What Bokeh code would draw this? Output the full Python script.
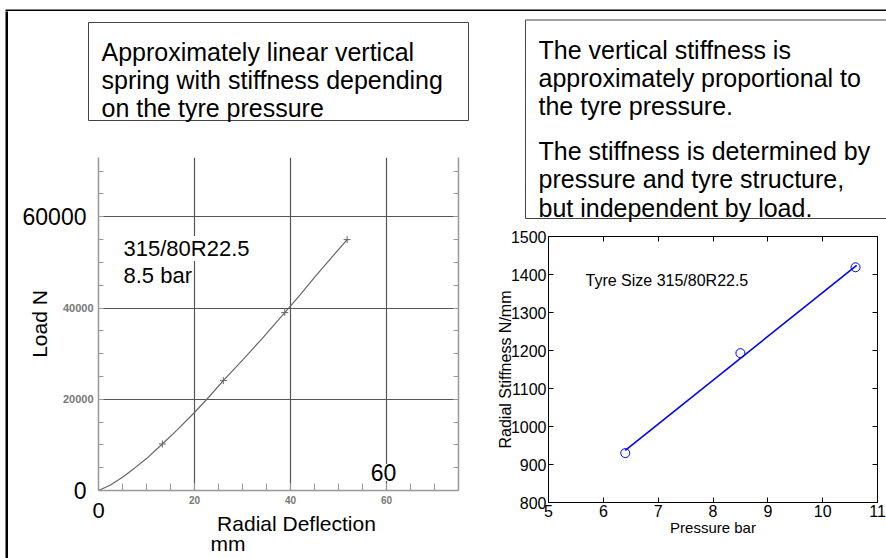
from bokeh.plotting import figure
from bokeh.models import Range1d, FixedTicker, LinearAxis, Label
from bokeh.layouts import row, column
from bokeh.core.properties import value
from bokeh.embed import file_html
from bokeh.resources import INLINE

# ---------------- data ----------------
# Left chart: load vs radial deflection (315/80R22.5, 8.5 bar)
defl_mm = [0, 2.5, 5, 7.5, 10, 13.3, 16.5, 20, 23, 26.0, 30, 34, 38.8, 42, 45, 48.5, 51.8]
load_N = [0, 1200, 2900, 4900, 7000, 10200, 13400, 17100, 20500, 24100, 28600,
          33200, 39000, 42900, 46700, 51000, 55000]
meas_defl = [13.3, 26.0, 38.8, 51.8]
meas_load = [10200, 24100, 39000, 55000]
left_xticks = [0, 20, 40, 60]
left_yticks = [0, 20000, 40000, 60000]
big_yticks = [0, 60000]
big_xticks = [0]

# Right chart: radial stiffness vs pressure
pressure_bar = [6.4, 8.5, 10.6]
stiffness_Nmm = [930, 1193, 1419]
fit_pressure = [6.4, 10.62]
fit_stiffness = [937, 1424]
right_xticks = [5, 6, 7, 8, 9, 10, 11]
right_yticks = [800, 900, 1000, 1100, 1200, 1300, 1400, 1500]

left_box_lines = ["Approximately linear vertical",
                  "spring with stiffness depending",
                  "on the tyre pressure"]
right_box_lines = ["The vertical stiffness is",
                   "approximately proportional to",
                   "the tyre pressure.",
                   "The stiffness is determined by",
                   "pressure and tyre structure,",
                   "but independent by load."]

FONT = "Liberation Sans"


def panel(x0, x1, y0, y1):
    p = figure(width=x1 - x0, height=y1 - y0, x_range=Range1d(x0, x1),
               y_range=Range1d(y1, y0), output_backend="svg",
               toolbar_location=None, min_border=0, x_axis_type=None,
               y_axis_type=None, outline_line_color=None)
    p.frame_align = False
    return p


# ---------------- slide frame: top rule and left rule ----------------
top = panel(0, 886, 0, 11)
top.quad(left=[5], right=[900], top=[8], bottom=[10.6], fill_color="black", line_color=None)

strip = panel(0, 8, 11, 558)
strip.quad(left=[5], right=[8], top=[0], bottom=[558], fill_color="black", line_color=None)

# ---------------- left top panel (page px coords) ----------------
lt = panel(8, 490, 11, 140)
lt.quad(left=[88], right=[468], top=[22], bottom=[120], fill_color="white",
        line_color="#444444", line_width=1)
lt.text(x=[101] * 3, y=[51.7, 79.5, 107.3], text=left_box_lines,
        text_font=value(FONT), text_font_size="25px", text_baseline="alphabetic",
        text_color="black")

# ---------------- right top panel ----------------
rt = panel(490, 886, 11, 222)
rt.quad(left=[525], right=[900], top=[19.5], bottom=[218], fill_color="white",
        line_color="#444444", line_width=1)
rt.text(x=[538] * 6, y=[49.5, 77, 105, 150, 178.5, 207], text=right_box_lines,
        text_font=value(FONT), text_font_size="25px", text_baseline="alphabetic",
        text_color="black")

# ---------------- left chart ----------------
LX0, LX1, LY0, LY1 = 98, 458, 157, 490  # frame in page px


def lx(px):
    return (px - LX0) / (LX1 - LX0) * 75


def ly(py):
    return (LY1 - py) / (LY1 - LY0) * 73000


lc = figure(width=482, height=418, x_range=Range1d(0, 75), y_range=Range1d(0, 73000),
            min_border_left=90, min_border_right=32, min_border_top=17,
            min_border_bottom=68, output_backend="svg", toolbar_location=None,
            outline_line_color=None)
lc.frame_align = False
lc.xgrid.ticker = FixedTicker(ticks=[t for t in left_xticks if t > 0])
lc.ygrid.ticker = FixedTicker(ticks=[t for t in left_yticks if t > 0])
lc.grid.grid_line_color = "#555555"
lc.grid.grid_line_width = 1.2

ax = lc.xaxis[0]
ax.ticker = FixedTicker(ticks=left_xticks, minor_ticks=list(range(0, 80, 5)))
ax.major_label_overrides = {0: ""}
ay = lc.yaxis[0]
ay.ticker = FixedTicker(ticks=left_yticks, minor_ticks=list(range(0, 75000, 5000)))
ay.major_label_overrides = {0: "", 60000: ""}
for a in (ax, ay):
    a.axis_line_color = "#999999"
    a.axis_line_width = 1.5
    a.major_tick_out = 0
    a.minor_tick_out = 0
    a.major_tick_line_color = "#999999"
    a.minor_tick_line_color = "#999999"
    a.major_label_text_font = FONT
    a.major_label_text_font_size = "11px"
    a.major_label_text_font_style = "bold"
    a.major_label_text_color = "#777777"
    a.major_label_standoff = 5
ax.major_label_text_font_size = "10px"
ax.major_tick_in = 7
ax.minor_tick_in = 7
ay.major_tick_in = 5
ay.minor_tick_in = 5

ry_axis = LinearAxis(ticker=FixedTicker(ticks=left_yticks, minor_ticks=list(range(0, 75000, 5000))),
                     major_label_text_font_size="0px", major_label_standoff=0,
                     major_tick_in=5, major_tick_out=0, minor_tick_in=5, minor_tick_out=0,
                     axis_line_color="#999999", axis_line_width=1.5,
                     major_tick_line_color="#999999", minor_tick_line_color="#999999",
                     major_label_overrides={t: "" for t in left_yticks})
lc.add_layout(ry_axis, "right")


def text_axis(ticks, labels, size, standoff, **kw):
    return LinearAxis(ticker=FixedTicker(ticks=ticks), axis_line_color=None,
                      major_tick_line_color=None, minor_tick_line_color=None,
                      major_tick_in=0, major_tick_out=0, minor_tick_in=0, minor_tick_out=0,
                      major_label_text_font=FONT, major_label_text_font_size=size,
                      major_label_text_color="black", major_label_standoff=standoff,
                      major_label_overrides=dict(zip(ticks, labels)), **kw)


# outer axes carrying the large overlaid labels and axis titles
big_left = text_axis(big_yticks, ["0", "60000"], "23px", -27,
                     axis_label="Load N", axis_label_text_font=FONT,
                     axis_label_text_font_style="normal", axis_label_text_font_size="21px",
                     axis_label_text_color="black", axis_label_standoff=-31)
lc.add_layout(big_left, "left")

XLAB_POS = 41.25   # centre of "Radial Deflection" in data units
MM_POS = 27.0      # centre of "mm"
lc.add_layout(text_axis(big_xticks, ["0"], "22px", -4), "below")
lc.add_layout(text_axis([XLAB_POS], ["Radial Deflection"], "21px", -9), "below")
lc.add_layout(text_axis([MM_POS], ["mm"], "21px", -6), "below")

lc.line(defl_mm, load_N, line_color="#666666", line_width=1.2)
lc.scatter(meas_defl, meas_load, marker="cross", size=7, line_color="#666666")

lc.add_layout(Label(x=lx(383), y=ly(472), text="60", text_align="center",
                    text_baseline="middle", text_font_size="23px", text_font=FONT,
                    text_color="black", background_fill_color="white"))
lc.add_layout(Label(x=lx(123), y=ly(248), text="315/80R22.5", text_align="left",
                    text_baseline="alphabetic", text_font_size="22px", text_font=FONT,
                    text_color="black", background_fill_color="white"))
lc.add_layout(Label(x=lx(123), y=ly(275), text="8.5 bar", text_align="left",
                    text_baseline="alphabetic", text_font_size="22px", text_font=FONT,
                    text_color="black", background_fill_color="white"))

# ---------------- right chart ----------------
RX0, RX1, RY0, RY1 = 548, 877, 236, 502


def rx(px):
    return 5 + (px - RX0) / (RX1 - RX0) * 6


def ry(py):
    return 800 + (RY1 - py) / (RY1 - RY0) * 700


rc = figure(width=396, height=336, x_range=Range1d(5, 11), y_range=Range1d(800, 1500),
            min_border_left=58, min_border_right=9, min_border_top=14,
            min_border_bottom=56, output_backend="svg", toolbar_location=None,
            outline_line_color="black")
rc.frame_align = False
rc.grid.visible = False
bx = rc.xaxis[0]
by = rc.yaxis[0]
bx.ticker = FixedTicker(ticks=right_xticks)
by.ticker = FixedTicker(ticks=right_yticks)
for a in (bx, by):
    a.axis_line_color = "black"
    a.major_tick_in = 5
    a.major_tick_out = 0
    a.minor_tick_in = 0
    a.minor_tick_out = 0
    a.major_tick_line_color = "black"
    a.major_label_text_font = FONT
    a.major_label_text_font_size = "16px"
    a.major_label_text_color = "black"
    a.major_label_standoff = 2
    a.axis_label_text_font = FONT
    a.axis_label_text_font_style = "normal"
    a.axis_label_text_color = "black"
bx.axis_label = "Pressure bar"
bx.axis_label_text_font_size = "15px"
bx.axis_label_standoff = -1
by.axis_label = "Radial Stiffness N/mm"
by.axis_label_text_font_size = "16px"
by.axis_label_standoff = -6

top_ax = LinearAxis(ticker=FixedTicker(ticks=right_xticks), major_label_text_font_size="0px",
                    major_label_standoff=0, major_tick_in=5, major_tick_out=0,
                    minor_tick_in=0, minor_tick_out=0, axis_line_color="black",
                    major_label_overrides={t: "" for t in right_xticks})
right_ax = LinearAxis(ticker=FixedTicker(ticks=right_yticks), major_label_text_font_size="0px",
                      major_label_standoff=0, major_tick_in=5, major_tick_out=0,
                      minor_tick_in=0, minor_tick_out=0, axis_line_color="black",
                      major_label_overrides={t: "" for t in right_yticks})
rc.add_layout(top_ax, "above")
rc.add_layout(right_ax, "right")

rc.line(fit_pressure, fit_stiffness, line_color="#0000ff", line_width=1.6)
rc.scatter(pressure_bar, stiffness_Nmm, marker="circle", size=9, fill_color=None,
           line_color="#0000ff", line_width=1)
rc.add_layout(Label(x=rx(585), y=ry(280), text="Tyre Size 315/80R22.5",
                    text_align="left", text_baseline="alphabetic",
                    text_font=FONT, text_font_size="16px", text_color="black"))

body = row(strip, column(lt, lc, spacing=0), column(rt, rc, spacing=0), spacing=0)
layout = column(top, body, spacing=0)

open("out.html", "w").write(file_html(layout, INLINE))
